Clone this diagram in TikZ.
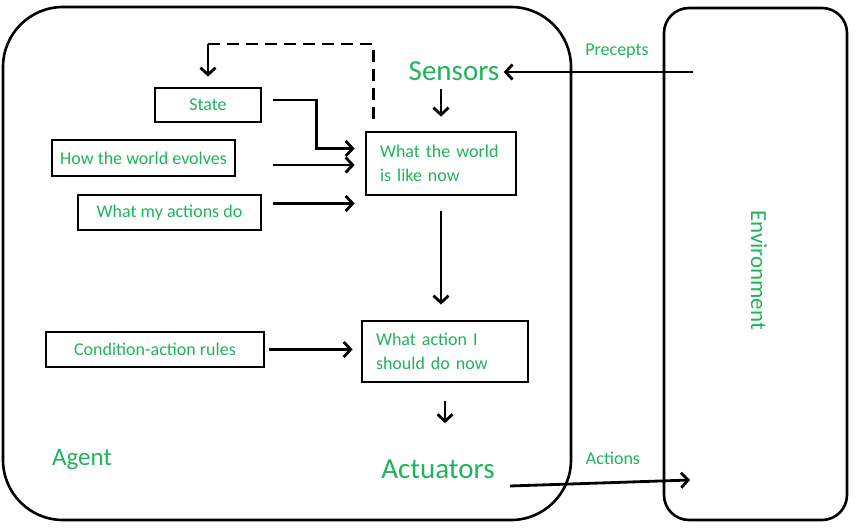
\documentclass[tikz,border=0pt]{standalone}
\usepackage{fontspec}
\setmainfont{Carlito}
\usepackage{xcolor}
\usetikzlibrary{positioning, arrows.meta, calc}
\definecolor{lblgreen}{RGB}{30,180,90}

\begin{document}
\begin{tikzpicture}[
    x=1pt, y=-1pt,
    line width=2.8pt,
    frame/.style={draw, rectangle, line width=2.6pt, inner sep=0pt},
    box/.style={draw, rectangle, line width=2.8pt, align=center, text=lblgreen, font=\fontsize{18}{24}\selectfont},
    wbox/.style={box, align=left, inner xsep=14pt, inner ysep=0pt},
    big/.style={text=lblgreen, inner sep=0pt, font=\fontsize{29}{32}\selectfont},
    small/.style={text=lblgreen, inner sep=0pt, font=\fontsize{18}{20}\selectfont},
    arr/.style={-{Straight Barb[length=7pt,width=15pt]}},
    dashline/.style={dash pattern=on 12pt off 7pt}
]
    \useasboundingbox (0,0) rectangle (860,529);

    % ================= OUTER FRAMES =================
    \node[frame, rounded corners=60pt, minimum width=568pt, minimum height=513pt] (AGT) at (287,263.5) {};
    \node[frame, rounded corners=25pt, minimum width=183pt, minimum height=512pt] (ENV) at (755.5,264) {};

    \node[small, font=\fontsize{25}{28}\selectfont] (agent) at (82,460) {Agent};
    \node[small, font=\fontsize{23}{26}\selectfont, rotate=-90] (envlbl) at (759,270) {Environment};

    % ================= SENSORS / ACTUATORS =================
    \node[big] (SEN) at (454,71) {Sensors};
    \node[big] (ACT) at (438,469) {Actuators};

    \node[small] (prec) at (617,51) {Precepts};
    \node[small] (actn) at (613,458) {Actions};

    \coordinate (envin) at (693,72);
    \coordinate (envout) at (690,480);
    \coordinate (actfrom) at (510,486);

    % ================= INTERNAL STATE =================
    \node[box, minimum width=106pt, minimum height=34pt] (STA) at (208,105) {State};
    \node[box, minimum width=183pt, minimum height=36pt] (HOW) at (143.5,158) {How the world evolves};
    \node[box, minimum width=183pt, minimum height=35pt] (MYA) at (169.5,212.5) {What my actions do};
    \node[box, minimum width=218pt, minimum height=35pt] (CON) at (155,349.5) {Condition-action rules};

    \node[wbox, text width=122pt, minimum height=63pt] (WLD) at (441,163.5) {What the world\\is like now};
    \node[wbox, text width=138pt, minimum height=61pt] (ACN) at (445,351.5) {What action I\\should do now};

    % ================= CONNECTIONS =================
    \draw[arr, shorten >=3pt] (envin) -- (envin -| SEN.east);
    \draw[arr, shorten <=7pt, shorten >=14pt] (SEN.south -| WLD.north) -- (WLD.north);

    \draw[arr] ([xshift=11pt,yshift=5pt]STA.east) -- ++(43,0) |- ([xshift=-10pt,yshift=15pt]WLD.west);
    \draw[arr] ([xshift=37pt,yshift=-7pt]HOW.east) -- ([xshift=-10pt,yshift=-7pt]HOW.east -| WLD.west);
    \draw[arr] ([xshift=11pt,yshift=9pt]MYA.east) -- ([xshift=-10pt,yshift=9pt]MYA.east -| WLD.west);

    % feedback from the world model back to the state
    \coordinate (dcorner) at (STA.north |- 0,44);
    \draw[dashline] ([xshift=9pt,yshift=12pt]WLD.north west) |- (dcorner);
    \draw[arr, shorten >=10pt] (dcorner) -- (STA.north);

    \draw[arr, shorten <=15pt, shorten >=15pt] (WLD.south) -- (WLD.south |- ACN.north);
    \draw[arr, shorten <=4pt, shorten >=8pt] (CON.east) -- (CON.east -| ACN.west);
    \draw[arr, shorten <=18pt, shorten >=35pt] (ACN.south) -- (ACN.south |- ACT.north);

    \draw[arr] (actfrom) -- (envout);

\end{tikzpicture}
\end{document}
